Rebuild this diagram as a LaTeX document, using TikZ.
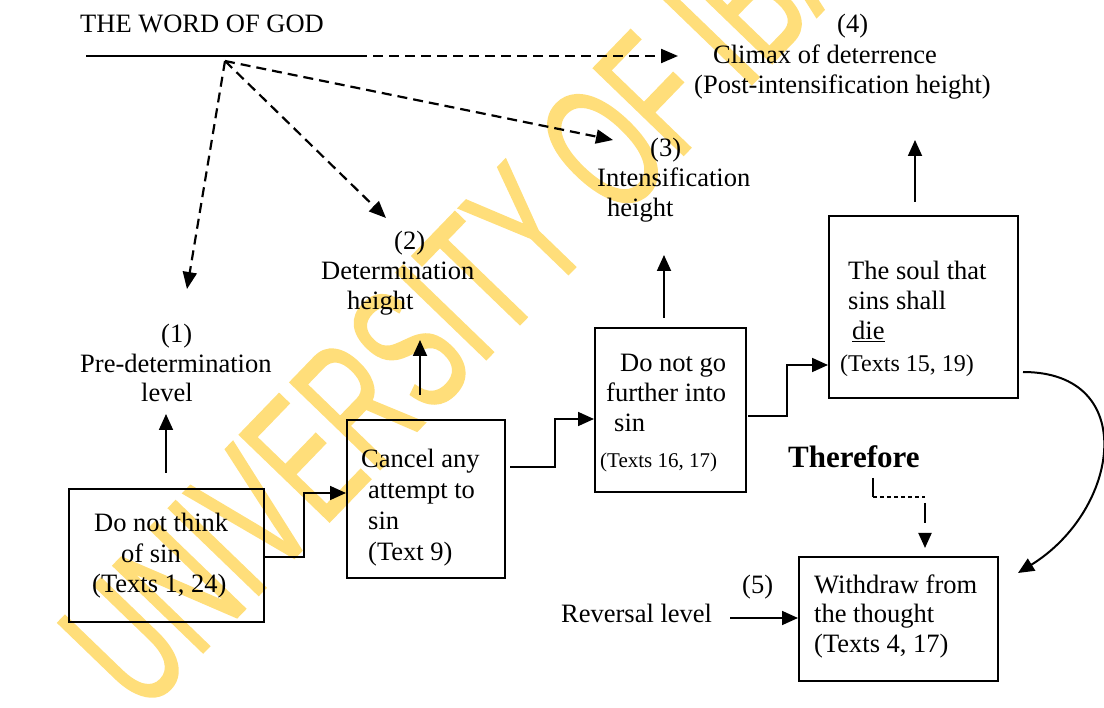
\documentclass[tikz,border=0pt]{standalone}
\usepackage{fontspec}
\setmainfont{Liberation Serif}
\newfontfamily\wmfont[FakeStretch=0.6,FakeBold=0.9]{Liberation Sans}
\usetikzlibrary{arrows.meta}
\definecolor{wmyellow}{RGB}{255,222,122}
\newcommand\fsmain{\fontsize{26.5}{30}\selectfont}
% stacked lines whose baseline is the baseline of the first line
\newcommand\textlines[2]{\vtop{\baselineskip=#1\relax\lineskiplimit=-100pt\relax #2}}

\begin{document}
\begin{tikzpicture}[x=1pt,y=-1pt,
  box/.style={draw, line width=2pt, inner sep=0pt, minimum width=#1},
  txt/.style={inner sep=0pt, anchor=base west, font=\fsmain},
  conn/.style={line width=1.8pt},
  tip/.style={-{Triangle[length=16pt,width=14pt]}},
  fan/.style={line width=2.2pt, dash pattern=on 10pt off 6pt, -{Triangle[length=17pt,width=14pt]}},
  wm/.style={inner sep=0pt, anchor=base west, rotate=46, text=wmyellow,
             font=\wmfont\fontsize{182}{182}\selectfont}]
\useasboundingbox (0,0) rectangle (1104,708);

% watermark
\begin{scope}
  \clip (0,0) rectangle (1104,708);
  \node[wm] (watermark) at (142,716) {UNIVERSITY OF IBADAN};
\end{scope}

% source line
\node[txt] (title) at (80,33) {THE WORD OF GOD};
\coordinate (wl) at (86,56);
\coordinate (wm) at (357,56);
\coordinate (w4) at (678,56);
\coordinate (src) at (225,61);
\coordinate (f1) at (187,289);
\coordinate (f2) at (386,218);
\coordinate (f3) at (613,140);
\draw[line width=2pt] (wl) -- (wm);
\draw[fan] (wm) -- (w4);
\draw[fan] (src) -- (f1);
\draw[fan] (src) -- (f2);
\draw[fan] (src) -- (f3);

% level labels
\node[txt] (lab4) at (694,33) {\textlines{30.5pt}{\hbox{\kern143pt (4)}\hbox{\kern19pt Climax of deterrence}\hbox{(Post-intensification height)}}};
\node[txt] (lab3) at (597,157) {\textlines{30pt}{\hbox{\kern53pt (3)}\hbox{Intensification}\hbox{\kern10pt height}}};
\node[txt] (lab2) at (321,250) {\textlines{30pt}{\hbox{\kern73pt (2)}\hbox{Determination}\hbox{\kern26pt height}}};
\node[txt] (lab1) at (80,343) {\textlines{29.5pt}{\hbox{\kern81pt (1)}\hbox{Pre-determination}\hbox{\kern61pt level}}};

% boxes
\node[box=195pt, minimum height=133pt, anchor=north west] (box1) at (68,488) {};
\node[box=158pt, minimum height=158pt, anchor=north west] (box2) at (346,419) {};
\node[box=151pt, minimum height=164pt, anchor=north west] (box3) at (594,327) {};
\node[box=189pt, minimum height=182pt, anchor=north west] (box4) at (828,215) {};
\node[box=199pt, minimum height=124pt, anchor=north west] (box5) at (798,556) {};

% box texts
\node[txt] (t1) at (92,532) {\textlines{30.5pt}{\hbox{\kern2pt Do not think}\hbox{\kern29pt of sin}\hbox{(Texts 1, 24)}}};
\node[txt] (t2) at (361,468) {\textlines{31pt}{\hbox{Cancel any}\hbox{\kern7pt attempt to}\hbox{\kern7pt sin}\hbox{\kern7pt (Text 9)}}};
\node[txt] (t3) at (600,372) {\textlines{30pt}{\hbox{\kern20pt Do not go}\hbox{\kern6pt further into}\hbox{\kern14pt sin}\vskip6pt\hbox{\fontsize{21}{30}\selectfont (Texts 16, 17)}}};
\node[txt] (t4) at (840,280) {\textlines{30pt}{\hbox{\kern8pt The soul that}\hbox{\kern8pt sins shall}\hbox{\kern12pt \underline{die}}\vskip2pt\hbox{\fontsize{24}{30}\selectfont (Texts 15, 19)}}};
\node[txt] (t5) at (814,593) {\textlines{30pt}{\hbox{Withdraw from}\hbox{the thought}\hbox{(Texts 4, 17)}}};

% upward arrows
\coordinate (u1a) at (166,473); \coordinate (u1b) at (166,414);
\coordinate (u2a) at (420,395); \coordinate (u2b) at (420,340);
\coordinate (u3a) at (664,318); \coordinate (u3b) at (664,255);
\coordinate (u4a) at (915,202); \coordinate (u4b) at (915,140);
\draw[conn,tip] (u1a) -- (u1b);
\draw[conn,tip] (u2a) -- (u2b);
\draw[conn,tip] (u3a) -- (u3b);
\draw[conn,tip] (u4a) -- (u4b);

% stepped connectors between boxes
\coordinate (e12) at (304,493);
\coordinate (e23) at (555,419);
\coordinate (e34) at (787,365);
\draw[conn,tip] ([yshift=-1.5pt]box1.east) -| (e12) -- (box2.west |- e12);
\draw[conn,tip] ([xshift=4pt,yshift=32pt]box2.east) -| (e23) -- (box3.west |- e23);
\draw[conn,tip] ([xshift=1pt,yshift=-6pt]box3.east) -| (e34) -- (box4.west |- e34);

% return arc
\coordinate (arcS) at (1023,372);
\coordinate (arcE) at (1018,573);
\draw[line width=2pt,tip] (arcS) .. controls (1140,372) and (1120,510) .. (arcE);

% therefore
\node[txt, font=\fontsize{31}{35}\selectfont\bfseries] (there) at (788,468) {Therefore};
\coordinate (th1) at (873,478);
\coordinate (th2) at (873,497);
\coordinate (th3) at (925,497);
\coordinate (th4) at (925,503);
\coordinate (th5) at (925,548);
\draw[line width=1.4pt] (th1) -- (th2);
\draw[line width=1.1pt, dash pattern=on 4pt off 3pt] (th2) -- (th3);
\draw[line width=2pt, dash pattern=on 20pt off 10pt, -{Triangle[length=15pt,width=13pt]}] (th4) -- (th5);

% reversal level
\node[txt] (five) at (742,593) {(5)};
\node[txt] (rev) at (561,623) {Reversal level};
\coordinate (r1) at (730,618);
\draw[conn,tip] (r1) -- (box5.west |- r1);
\end{tikzpicture}
\end{document}
